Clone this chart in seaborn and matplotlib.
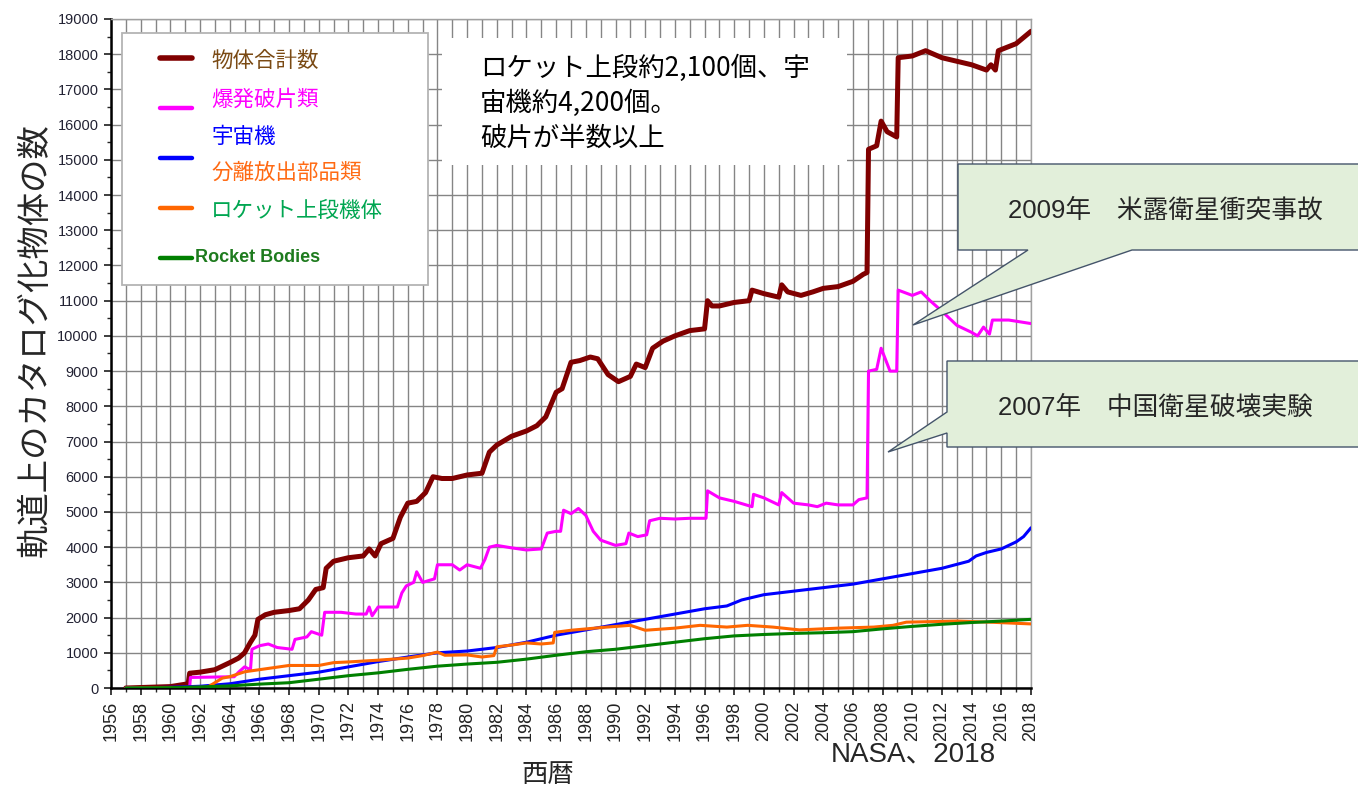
import numpy as np
import pandas as pd
import matplotlib
matplotlib.use('Agg')
import matplotlib.pyplot as plt
from matplotlib.patches import Rectangle, Polygon
from matplotlib.lines import Line2D
from matplotlib.ticker import MultipleLocator
import seaborn as sns

# series (year, number of catalogued objects)
total = [(1957.0, 0), (1960.0, 40), (1961.2, 120), (1961.3, 420), (1962.0, 450), (1963.0, 520),
         (1963.5, 620), (1964.0, 720), (1964.6, 850), (1965.0, 1000), (1965.4, 1300), (1965.7, 1500),
         (1965.9, 1950), (1966.4, 2080), (1967.0, 2150), (1968.0, 2200), (1968.7, 2250), (1969.3, 2500),
         (1969.8, 2800), (1970.3, 2850), (1970.5, 3400), (1971.0, 3600), (1972.0, 3700), (1973.0, 3750),
         (1973.4, 3950), (1973.8, 3750), (1974.2, 4100), (1975.0, 4250), (1975.5, 4850), (1976.0, 5250),
         (1976.6, 5300), (1977.2, 5550), (1977.7, 6000), (1978.3, 5950), (1979.0, 5950), (1980.0, 6050),
         (1981.0, 6100), (1981.5, 6700), (1982.0, 6900), (1983.0, 7150), (1984.0, 7300), (1984.7, 7450),
         (1985.3, 7700), (1986.0, 8400), (1986.4, 8500), (1987.0, 9250), (1987.6, 9300), (1988.3, 9400),
         (1988.8, 9350), (1989.5, 8900), (1990.2, 8700), (1991.0, 8850), (1991.4, 9200), (1992.0, 9100),
         (1992.5, 9650), (1993.2, 9850), (1994.0, 10000), (1995.0, 10150), (1996.0, 10200), (1996.2, 11000),
         (1996.5, 10850), (1997.0, 10850), (1998.0, 10950), (1999.0, 11000), (1999.2, 11300), (2000.0, 11200),
         (2001.0, 11100), (2001.2, 11450), (2001.6, 11250), (2002.5, 11150), (2003.3, 11250), (2004.0, 11350),
         (2005.0, 11400), (2006.0, 11550), (2006.7, 11750), (2006.95, 11800), (2007.05, 15300), (2007.6, 15400),
         (2007.9, 16100), (2008.3, 15800), (2008.95, 15650), (2009.05, 17900), (2010.0, 17950), (2010.9, 18100),
         (2012.0, 17900), (2013.0, 17800), (2014.0, 17700), (2015.0, 17550), (2015.3, 17700), (2015.6, 17550),
         (2015.8, 18100), (2017.0, 18300), (2018.0, 18650)]

fragments = [(1957.0, 0), (1961.3, 0), (1961.35, 300), (1964.3, 320), (1964.6, 450), (1965.0, 600),
             (1965.4, 520), (1965.5, 1100), (1966.0, 1200), (1966.6, 1250), (1967.2, 1150), (1968.2, 1100),
             (1968.4, 1380), (1969.2, 1450), (1969.5, 1600), (1970.2, 1500), (1970.4, 2150), (1971.5, 2150),
             (1972.5, 2100), (1973.2, 2100), (1973.4, 2300), (1973.6, 2050), (1974.0, 2300), (1975.3, 2300),
             (1975.6, 2700), (1975.9, 2900), (1976.4, 3000), (1976.6, 3300), (1977.0, 3000), (1977.8, 3100),
             (1978.0, 3500), (1979.0, 3500), (1979.5, 3350), (1980.0, 3500), (1980.9, 3400), (1981.2, 3650),
             (1981.5, 4000), (1982.0, 4050), (1983.0, 3980), (1984.0, 3920), (1985.0, 3950), (1985.4, 4400),
             (1986.0, 4450), (1986.3, 4450), (1986.5, 5050), (1987.0, 4950), (1987.5, 5100), (1988.0, 4900),
             (1988.5, 4450), (1989.0, 4200), (1990.0, 4050), (1990.7, 4100), (1990.9, 4400), (1991.5, 4300),
             (1992.1, 4350), (1992.3, 4750), (1993.0, 4820), (1994.0, 4800), (1995.0, 4820), (1996.1, 4820),
             (1996.2, 5600), (1997.0, 5400), (1998.0, 5300), (1998.8, 5200), (1999.2, 5150), (1999.3, 5500),
             (2000.0, 5400), (2001.0, 5200), (2001.2, 5550), (2002.0, 5250), (2003.0, 5200), (2003.6, 5150),
             (2004.2, 5250), (2005.0, 5200), (2006.0, 5200), (2006.4, 5350), (2006.95, 5400), (2007.05, 9000),
             (2007.6, 9050), (2007.9, 9650), (2008.5, 9000), (2008.95, 9000), (2009.05, 11300), (2010.0, 11150),
             (2010.6, 11250), (2011.2, 11000), (2012.0, 10700), (2013.0, 10300), (2014.0, 10100), (2014.4, 10000),
             (2014.8, 10250), (2015.2, 10050), (2015.4, 10450), (2016.5, 10450), (2018.0, 10350)]

spacecraft = [(1957, 0), (1960, 20), (1962, 50), (1964, 120), (1966, 250), (1968, 350), (1970, 450),
              (1972, 600), (1974, 750), (1976, 880), (1978, 1000), (1980, 1050), (1982, 1150), (1984, 1300),
              (1986, 1500), (1988, 1650), (1990, 1800), (1992, 1950), (1994, 2100), (1996, 2250),
              (1997.5, 2330), (1998.5, 2500), (2000, 2650), (2002, 2750), (2004, 2850), (2006, 2950),
              (2008, 3100), (2010, 3250), (2012, 3400), (2013.8, 3600), (2014.3, 3750), (2015, 3850),
              (2016, 3950), (2017, 4150), (2017.5, 4300), (2018, 4550)]

mission_debris = [(1957, 0), (1962.5, 20), (1963.0, 150), (1963.5, 280), (1964, 320), (1965, 460),
                  (1966, 520), (1968, 640), (1970, 640), (1971, 720), (1972, 740), (1974, 790), (1976, 850),
                  (1977, 920), (1978, 1020), (1978.5, 930), (1980, 940), (1981, 880), (1981.8, 920),
                  (1982, 1170), (1983, 1220), (1984, 1280), (1985, 1250), (1985.8, 1280), (1985.9, 1580),
                  (1987, 1640), (1989.4, 1730), (1991, 1780), (1992, 1640), (1994, 1700), (1995.7, 1780),
                  (1997.5, 1730), (1998.9, 1780), (2000.6, 1730), (2002.4, 1650), (2005, 1700),
                  (2007.4, 1730), (2008.7, 1780), (2009.6, 1870), (2013, 1900), (2015.2, 1870), (2018, 1820)]

rocket_bodies = [(1957, 0), (1960, 10), (1962, 30), (1964, 60), (1966, 110), (1968, 150), (1970, 250),
                 (1972, 350), (1974, 430), (1976, 530), (1978, 620), (1980, 680), (1982, 730), (1984, 820),
                 (1986, 930), (1988, 1030), (1990, 1100), (1992, 1200), (1994, 1300), (1996, 1400),
                 (1998, 1480), (2000, 1520), (2002, 1550), (2004, 1570), (2006, 1600), (2008, 1680),
                 (2010, 1750), (2012, 1810), (2014, 1860), (2016, 1900), (2018, 1950)]

series = [total, fragments, spacecraft, mission_debris, rocket_bodies]
line_colors = ['#800000', '#ff00ff', '#0000ff', '#ff6600', '#008000']
line_widths = [3.6, 2.2, 2.2, 2.2, 2.2]

legend_labels = ['物体合計数', '爆発破片類', '宇宙機', '分離放出部品類', 'ロケット上段機体']
legend_text_colors = ['#7a4a14', '#ff00ff', '#0000ff', '#ff6a13', '#00a651']

note_lines = ['ロケット上段約2,100個、宇', '宙機約4,200個。', '破片が半数以上']
event_2009 = '2009年　米露衛星衝突事故'
event_2007 = '2007年　中国衛星破壊実験'

sns.set_theme(style='white')
plt.rcParams['font.family'] = ['Liberation Sans', 'Noto Sans CJK JP', 'DejaVu Sans']
jp = ['Noto Sans CJK JP', 'DejaVu Sans']
mix = ['Liberation Sans', 'Noto Sans CJK JP']

W, H = 1358, 789
def fx(x):
    return x / W
def fy(y):
    return 1 - y / H

fig = plt.figure(figsize=(W / 100, H / 100), dpi=100)
ax = fig.add_axes([fx(111), fy(688), fx(1031) - fx(111), fy(19) - fy(688)])

for data, c, lw in zip(series, line_colors, line_widths):
    df = pd.DataFrame(data, columns=['year', 'count'])
    sns.lineplot(data=df, x='year', y='count', color=c, lw=lw, estimator=None, sort=False,
                 ax=ax, legend=False, zorder=3)

ax.set_xlim(1956, 2018)
ax.set_ylim(0, 19000)
ax.xaxis.set_major_locator(MultipleLocator(2))
ax.xaxis.set_minor_locator(MultipleLocator(1))
ax.yaxis.set_major_locator(MultipleLocator(1000))
ax.yaxis.set_minor_locator(MultipleLocator(500))
ax.xaxis.grid(True, which='both', color='#858585', lw=1.0, zorder=0)
ax.yaxis.grid(True, which='major', color='#858585', lw=1.0, zorder=0)
ax.set_axisbelow(True)
ax.set_xlabel('')
ax.set_ylabel('')
ax.tick_params(axis='x', which='major', labelsize=13, labelrotation=90, length=5, pad=4,
               labelcolor='#222222', bottom=True)
ax.tick_params(axis='x', which='minor', length=3, bottom=True)
ax.tick_params(axis='y', which='major', labelsize=10.5, length=5, pad=4, labelcolor='#222233', left=True)
ax.tick_params(axis='y', which='minor', length=3, left=True)
for s in ['left', 'bottom']:
    ax.spines[s].set_color('black')
    ax.spines[s].set_linewidth(1.8)
for s in ['top', 'right']:
    ax.spines[s].set_color('#a0a0a0')
    ax.spines[s].set_linewidth(1.0)

# legend box (handles and Japanese labels placed like the original)
fig.add_artist(Rectangle((fx(122), fy(285)), fx(428) - fx(122), fy(33) - fy(285),
                         transform=fig.transFigure, facecolor='white', edgecolor='#b4b4b4', lw=1.3, zorder=5))
handle_y = [58, 108, 158, 208, 258]
handle_w = [4.0, 3.2, 3.2, 3.2, 3.2]
for yy, c, lw in zip(handle_y, line_colors, handle_w):
    fig.add_artist(Line2D([fx(160), fx(192)], [fy(yy), fy(yy)], transform=fig.transFigure,
                          color=c, lw=lw, zorder=6))
label_y = [61, 100, 137, 173, 211]
for yy, t, c in zip(label_y, legend_labels, legend_text_colors):
    fig.text(fx(211), fy(yy), t, color=c, fontsize=15.5, family=jp, va='center', ha='left', zorder=7)
fig.text(fx(195), fy(258), 'Rocket Bodies', color='#1e7b1e', fontsize=13, fontweight='bold',
         family=mix, va='center', ha='left', zorder=7)

# note box
fig.add_artist(Rectangle((fx(442), fy(165)), fx(847) - fx(442), fy(38) - fy(165),
                         transform=fig.transFigure, facecolor='white', edgecolor='none', zorder=5))
for yy, t in zip([68, 103, 138], note_lines):
    fig.text(fx(480), fy(yy), t, fontsize=19, family=jp, va='center', ha='left', color='black', zorder=7)

# callouts
box_fc = '#e2efda'
box_ec = '#44546a'
c1 = [(958, 164), (1366, 164), (1366, 250), (1132, 250), (913, 325), (1028, 250), (958, 250)]
c2 = [(947, 361), (1366, 361), (1366, 447), (947, 447), (947, 433), (888, 452), (947, 412)]
for pts in [c1, c2]:
    fig.add_artist(Polygon([(fx(a), fy(b)) for a, b in pts], closed=True, transform=fig.transFigure,
                           facecolor=box_fc, edgecolor=box_ec, lw=1.0, zorder=8, clip_on=False))
fig.text(fx(1165), fy(211), event_2009, fontsize=18.5, family=mix, ha='center', va='center', zorder=9)
fig.text(fx(1155), fy(408), event_2007, fontsize=18.5, family=mix, ha='center', va='center', zorder=9)

# axis titles and source
fig.text(fx(35), fy(340), '軌道上のカタログ化物体の数', rotation=90, fontsize=24, family=jp,
         ha='center', va='center')
fig.text(fx(548), fy(774), '西暦', fontsize=19, family=jp, ha='center', va='center')
fig.text(fx(913), fy(754), 'NASA、2018', fontsize=20, family=mix, ha='center', va='center')

fig.savefig('out.png', dpi=100)
